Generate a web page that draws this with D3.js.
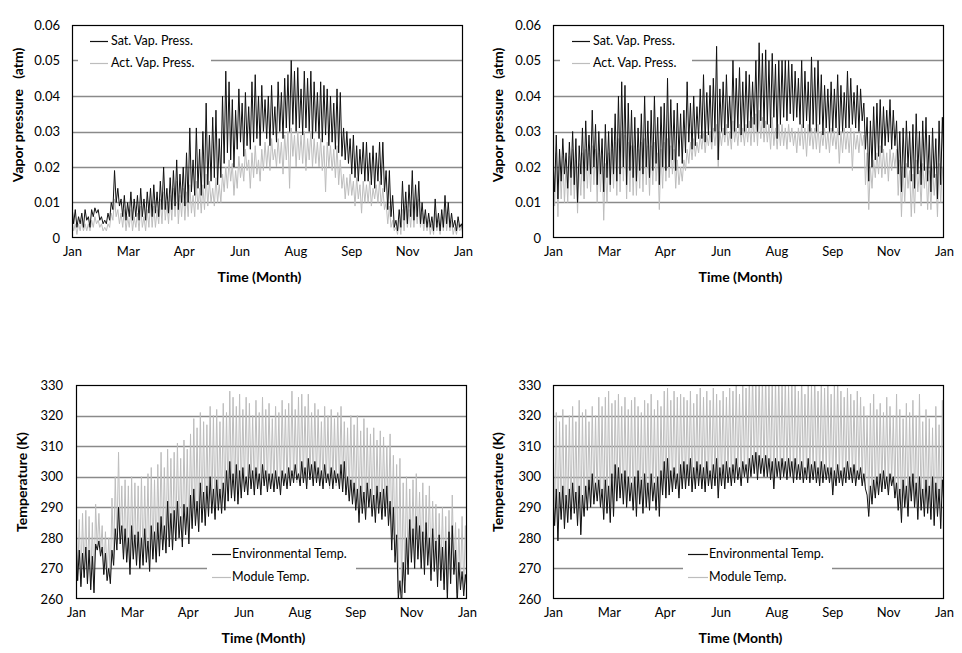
<!DOCTYPE html>
<html><head><meta charset="utf-8">
<script src="https://cdn.jsdelivr.net/npm/d3@7"></script>
<style>body{margin:0;background:#fff}svg{display:block}</style>
</head><body>
<script>
const monthLabels = ["Jan","Mar","Apr","Jun","Aug","Sep","Nov","Jan"];
const vpTicks = [0,0.01,0.02,0.03,0.04,0.05,0.06];
const tempTicks = [260,270,280,290,300,310,320,330];

const satVapA = [
0.009,0.004,0.008,0.003,0.006,0.004,0.007,0.003,0.008,0.005,
0.006,0.003,0.008,0.006,0.0085,0.007,0.008,0.005,0.006,0.004,
0.005,0.004,0.007,0.005,0.010,0.008,0.019,0.010,0.014,0.009,
0.011,0.006,0.012,0.005,0.010,0.006,0.013,0.005,0.011,0.006,
0.012,0.005,0.014,0.006,0.011,0.005,0.013,0.007,0.014,0.006,
0.015,0.007,0.013,0.006,0.016,0.008,0.020,0.008,0.014,0.007,
0.017,0.008,0.019,0.009,0.022,0.008,0.018,0.010,0.020,0.009,
0.024,0.010,0.031,0.013,0.022,0.012,0.031,0.014,0.025,0.012,
0.030,0.014,0.038,0.015,0.029,0.016,0.034,0.017,0.036,0.015,
0.028,0.017,0.040,0.021,0.047,0.024,0.044,0.022,0.039,0.020,
0.036,0.025,0.042,0.027,0.038,0.023,0.041,0.026,0.037,0.025,
0.044,0.027,0.046,0.028,0.040,0.026,0.043,0.030,0.039,0.028,
0.040,0.026,0.043,0.029,0.037,0.027,0.044,0.030,0.041,0.028,
0.045,0.031,0.046,0.030,0.050,0.032,0.047,0.030,0.048,0.031,
0.042,0.029,0.047,0.031,0.045,0.030,0.047,0.028,0.044,0.030,
0.041,0.028,0.044,0.027,0.043,0.029,0.042,0.026,0.040,0.027,
0.038,0.025,0.042,0.024,0.041,0.023,0.031,0.022,0.030,0.021,
0.028,0.018,0.029,0.017,0.026,0.016,0.025,0.018,0.027,0.016,
0.027,0.016,0.024,0.015,0.026,0.014,0.024,0.016,0.027,0.015,
0.027,0.013,0.019,0.008,0.019,0.006,0.012,0.003,0.005,0.002,
0.008,0.003,0.016,0.005,0.013,0.004,0.015,0.006,0.019,0.005,
0.015,0.006,0.016,0.004,0.010,0.004,0.008,0.003,0.007,0.003,
0.006,0.002,0.011,0.003,0.007,0.002,0.008,0.003,0.012,0.004,
0.010,0.003,0.007,0.003,0.005,0.002,0.006,0.003,0.004,0.002];
const actVapA = [
0.005,0.002,0.004,0.001,0.004,0.002,0.005,0.002,0.004,0.002,
0.004,0.002,0.005,0.003,0.006,0.004,0.005,0.003,0.004,0.002,
0.003,0.002,0.004,0.003,0.007,0.005,0.011,0.006,0.008,0.004,
0.007,0.003,0.008,0.002,0.006,0.003,0.008,0.002,0.006,0.003,
0.007,0.002,0.009,0.003,0.006,0.002,0.008,0.003,0.010,0.003,
0.009,0.003,0.008,0.004,0.011,0.004,0.013,0.005,0.010,0.004,
0.012,0.005,0.014,0.006,0.016,0.004,0.012,0.006,0.014,0.005,
0.013,0.006,0.015,0.007,0.012,0.006,0.016,0.008,0.014,0.007,
0.015,0.008,0.018,0.009,0.016,0.010,0.014,0.009,0.017,0.010,
0.015,0.010,0.018,0.013,0.020,0.014,0.022,0.016,0.021,0.012,
0.019,0.014,0.023,0.017,0.021,0.016,0.025,0.019,0.022,0.014,
0.024,0.017,0.026,0.018,0.022,0.016,0.025,0.019,0.027,0.020,
0.026,0.019,0.028,0.022,0.025,0.020,0.028,0.021,0.027,0.018,
0.029,0.022,0.030,0.014,0.031,0.023,0.029,0.020,0.030,0.022,
0.029,0.021,0.030,0.019,0.028,0.022,0.030,0.020,0.028,0.021,
0.027,0.020,0.028,0.019,0.026,0.013,0.027,0.020,0.026,0.019,
0.025,0.017,0.026,0.015,0.022,0.014,0.018,0.011,0.017,0.012,
0.018,0.012,0.016,0.009,0.017,0.011,0.015,0.007,0.016,0.010,
0.015,0.010,0.016,0.009,0.014,0.011,0.015,0.010,0.016,0.009,
0.014,0.008,0.010,0.004,0.009,0.003,0.005,0.002,0.003,0.001,
0.005,0.001,0.008,0.002,0.009,0.003,0.008,0.003,0.010,0.003,
0.010,0.004,0.011,0.003,0.007,0.002,0.006,0.002,0.005,0.001,
0.004,0.001,0.007,0.002,0.005,0.001,0.006,0.002,0.008,0.002,
0.007,0.002,0.005,0.001,0.003,0.001,0.004,0.002,0.003,0.001];

const satVapB = [
0.022,0.013,0.029,0.011,0.025,0.016,0.028,0.018,0.024,0.014,
0.027,0.017,0.030,0.015,0.028,0.010,0.026,0.018,0.031,0.016,
0.033,0.019,0.029,0.018,0.036,0.020,0.032,0.015,0.030,0.018,
0.028,0.013,0.032,0.017,0.030,0.015,0.031,0.018,0.035,0.016,
0.040,0.018,0.044,0.020,0.043,0.015,0.038,0.019,0.036,0.017,
0.034,0.016,0.031,0.019,0.035,0.018,0.040,0.020,0.033,0.017,
0.036,0.019,0.040,0.021,0.034,0.015,0.037,0.020,0.038,0.019,
0.045,0.020,0.039,0.022,0.036,0.019,0.038,0.023,0.035,0.021,
0.036,0.024,0.044,0.027,0.038,0.025,0.040,0.026,0.037,0.028,
0.042,0.028,0.046,0.027,0.041,0.029,0.043,0.027,0.045,0.030,
0.054,0.022,0.042,0.030,0.044,0.029,0.046,0.031,0.040,0.028,
0.050,0.030,0.045,0.031,0.048,0.029,0.044,0.030,0.047,0.031,
0.046,0.031,0.044,0.032,0.050,0.030,0.055,0.033,0.052,0.031,
0.053,0.032,0.050,0.031,0.052,0.034,0.049,0.028,0.050,0.032,
0.050,0.034,0.050,0.033,0.050,0.035,0.049,0.033,0.047,0.034,
0.045,0.032,0.050,0.031,0.047,0.033,0.044,0.030,0.051,0.032,
0.048,0.030,0.050,0.032,0.046,0.029,0.043,0.031,0.042,0.030,
0.044,0.030,0.042,0.031,0.046,0.029,0.043,0.030,0.041,0.031,
0.047,0.031,0.045,0.032,0.041,0.031,0.043,0.030,0.042,0.033,
0.038,0.025,0.034,0.016,0.033,0.020,0.037,0.022,0.038,0.023,
0.039,0.024,0.037,0.026,0.036,0.027,0.039,0.025,0.036,0.026,
0.033,0.018,0.030,0.013,0.031,0.017,0.033,0.020,0.030,0.016,
0.032,0.014,0.035,0.018,0.030,0.015,0.033,0.019,0.034,0.016,
0.029,0.013,0.031,0.017,0.028,0.011,0.033,0.015,0.034,0.020];
const actVapB = [
0.020,0.009,0.024,0.006,0.022,0.011,0.023,0.010,0.021,0.010,
0.023,0.012,0.025,0.011,0.022,0.007,0.021,0.012,0.024,0.011,
0.025,0.014,0.024,0.013,0.026,0.015,0.025,0.010,0.024,0.013,
0.023,0.005,0.021,0.010,0.024,0.013,0.025,0.014,0.027,0.012,
0.028,0.013,0.030,0.016,0.029,0.011,0.027,0.013,0.026,0.012,
0.026,0.012,0.025,0.014,0.027,0.013,0.028,0.015,0.026,0.012,
0.026,0.015,0.027,0.016,0.024,0.008,0.025,0.014,0.027,0.016,
0.028,0.017,0.026,0.018,0.025,0.014,0.022,0.015,0.020,0.016,
0.022,0.019,0.025,0.021,0.027,0.022,0.028,0.023,0.027,0.024,
0.029,0.025,0.030,0.024,0.029,0.026,0.030,0.025,0.031,0.026,
0.032,0.020,0.030,0.026,0.031,0.027,0.032,0.026,0.030,0.025,
0.033,0.027,0.031,0.026,0.032,0.027,0.031,0.026,0.032,0.027,
0.033,0.026,0.034,0.027,0.035,0.026,0.036,0.028,0.034,0.027,
0.033,0.027,0.032,0.025,0.034,0.026,0.031,0.025,0.032,0.026,
0.032,0.026,0.031,0.025,0.032,0.027,0.031,0.026,0.030,0.024,
0.031,0.026,0.032,0.025,0.031,0.023,0.032,0.026,0.031,0.025,
0.031,0.025,0.032,0.024,0.030,0.026,0.031,0.025,0.030,0.024,
0.031,0.026,0.030,0.025,0.031,0.021,0.030,0.024,0.031,0.025,
0.030,0.024,0.031,0.019,0.030,0.025,0.029,0.024,0.030,0.026,
0.029,0.015,0.024,0.008,0.020,0.014,0.022,0.017,0.024,0.018,
0.026,0.017,0.025,0.018,0.024,0.016,0.025,0.019,0.024,0.020,
0.025,0.012,0.022,0.006,0.020,0.010,0.021,0.014,0.019,0.006,
0.018,0.007,0.022,0.013,0.019,0.009,0.021,0.014,0.020,0.008,
0.019,0.008,0.020,0.012,0.018,0.006,0.021,0.010,0.020,0.014];

const envTempA = [
281,266,276,264,275,267,277,265,276,263,
274,262,278,276,279,274,277,268,275,266,
270,265,276,271,283,276,290,278,284,273,
283,272,280,268,284,273,281,271,282,270,
280,271,283,272,279,269,284,273,282,272,
285,274,287,276,284,275,292,277,288,276,
289,279,292,280,287,277,291,281,290,278,
294,283,296,284,292,282,298,285,295,284,
297,287,300,288,296,286,299,289,296,288,
298,289,302,292,305,293,301,292,304,291,
302,293,303,295,300,294,304,296,302,294,
303,296,301,294,304,297,302,295,301,296,
301,295,302,296,300,294,302,297,301,296,
303,297,302,298,304,299,301,297,305,298,
303,296,306,299,304,297,305,298,303,297,
302,296,304,298,301,297,303,296,302,298,
301,296,304,295,305,294,300,292,299,291,
298,289,296,285,297,288,295,286,298,290,
296,287,294,285,297,288,295,286,296,287,
297,284,292,276,290,272,281,260,266,258,
272,262,280,268,286,272,283,270,287,273,
284,270,282,268,285,271,280,266,283,269,
279,264,281,266,277,263,279,259,282,265,
284,268,276,258,272,263,269,261,268,263];
const modTempA = [
291,266,286,265,288,267,289,265,287,264,
285,263,291,276,288,275,284,268,282,267,
280,267,293,273,300,278,308,279,297,275,
299,273,297,270,300,274,298,272,297,271,
300,272,297,273,301,270,303,274,299,273,
304,276,308,277,303,276,309,279,306,277,
308,280,311,281,306,279,312,282,309,280,
314,284,319,285,316,283,321,286,318,285,
317,288,323,289,320,287,322,290,318,289,
324,290,321,292,328,294,326,293,323,292,
327,294,322,296,326,295,324,297,320,295,
325,297,321,296,326,298,322,296,324,297,
319,296,323,297,321,295,325,298,322,297,
324,298,328,299,322,298,326,297,327,299,
323,297,327,299,321,298,324,299,322,298,
318,297,323,298,320,296,322,298,319,297,
321,297,323,296,318,295,316,293,320,292,
317,290,320,289,315,288,319,287,316,290,
314,288,316,287,312,288,315,287,313,288,
310,286,314,280,307,274,304,262,306,262,
298,266,300,270,296,273,299,272,301,274,
295,272,298,270,294,272,297,268,292,270,
291,266,288,267,290,265,287,262,289,266,
294,269,285,262,283,265,287,263,284,265];

const envTempB = [
293,284,296,279,295,286,297,283,294,285,
296,286,298,288,295,284,297,281,294,287,
297,289,299,290,301,291,298,292,299,290,
296,286,299,288,297,285,301,287,304,292,
303,293,301,291,302,290,300,292,298,289,
300,287,302,291,299,288,301,290,298,289,
301,292,298,289,300,287,302,294,305,293,
306,294,302,295,303,296,301,293,304,296,
305,296,304,297,306,295,303,296,305,297,
304,296,303,295,305,297,302,296,304,297,
306,293,303,297,304,296,305,298,303,297,
304,298,306,299,303,297,305,300,304,298,
306,300,307,301,308,299,307,301,306,300,
307,300,306,299,305,296,306,300,305,299,
306,300,305,299,306,300,305,298,306,299,
304,299,305,298,303,299,306,298,304,299,
305,298,303,297,305,298,304,299,303,298,
303,294,302,297,304,298,302,297,303,298,
305,299,303,298,304,297,302,299,303,297,
301,296,294,287,297,291,299,293,300,294,
301,295,302,296,300,294,301,297,300,293,
298,289,296,285,299,290,297,287,300,292,
301,290,298,286,300,289,296,287,299,288,
297,286,300,284,298,287,296,283,299,290];
const modTempB = [
314,285,321,280,318,287,322,284,317,286,
320,287,323,289,318,285,325,282,321,288,
322,290,318,291,323,292,320,293,326,291,
323,287,326,289,328,286,324,288,325,293,
327,294,323,292,326,291,322,293,325,290,
326,288,323,292,321,289,325,291,324,290,
327,293,322,290,325,288,323,295,328,294,
329,295,325,296,328,297,326,294,327,297,
326,297,325,298,328,296,324,297,327,298,
329,297,326,296,328,298,325,297,329,298,
327,294,325,298,328,297,326,299,329,298,
328,299,331,300,327,298,330,301,329,299,
333,301,335,302,332,300,334,302,333,301,
334,301,331,300,333,297,332,301,334,300,
331,301,333,300,330,301,332,299,331,300,
328,300,333,299,327,300,332,299,330,300,
334,299,328,298,332,299,329,300,331,299,
327,295,330,298,333,299,328,298,326,299,
329,300,327,299,325,298,328,300,326,298,
323,297,320,288,324,292,327,294,322,295,
324,296,321,297,326,295,323,298,320,294,
327,290,322,286,319,291,324,288,321,293,
325,291,320,287,327,290,318,288,322,289,
319,287,316,285,323,288,317,284,325,291];

const FONT = "Lato, 'Open Sans', sans-serif";
const W = 962, H = 653;
const svg = d3.select("body").append("svg").attr("width", W).attr("height", H)
  .style("font-family", FONT);

const panels = [
  {id:"p1", l:72, r:463, t:25, b:238, domain:[0,0.06], ticks:vpTicks, fmt:v=>v===0?"0":v.toFixed(2),
   labelX:60, titleX:18, titleY:115, title:"Vapor pressure\u00a0\u00a0\u00a0(atm)", monthY:256, xTitleY:277,
   gray:actVapA, black:satVapA, names:["Sat. Vap. Press.","Act. Vap. Press."],
   leg:{x0:78, x1:211, y0:30, y1:72, lx0:90, lx1:108, tx:111, y:[41,63]}},
  {id:"p2", l:553, r:944, t:25, b:238, domain:[0,0.06], ticks:vpTicks, fmt:v=>v===0?"0":v.toFixed(2),
   labelX:541, titleX:498, titleY:115, title:"Vapor pressure\u00a0\u00a0\u00a0(atm)", monthY:256, xTitleY:277,
   gray:actVapB, black:satVapB, names:["Sat. Vap. Press.","Act. Vap. Press."],
   leg:{x0:560, x1:692, y0:30, y1:72, lx0:572, lx1:590, tx:593, y:[41,63]}},
  {id:"p3", l:76, r:467, t:385, b:599, domain:[260,330], ticks:tempTicks, fmt:v=>String(v),
   labelX:63, titleX:22, titleY:482, title:"Temperature (K)", monthY:617, xTitleY:638,
   gray:modTempA, black:envTempA, names:["Environmental Temp.","Module Temp."],
   leg:{x0:207, x1:356, y0:543, y1:590, lx0:212, lx1:231, tx:232, y:[554,577]}},
  {id:"p4", l:553, r:944, t:385, b:599, domain:[260,330], ticks:tempTicks, fmt:v=>String(v),
   labelX:541, titleX:498, titleY:482, title:"Temperature (K)", monthY:617, xTitleY:638,
   gray:modTempB, black:envTempB, names:["Environmental Temp.","Module Temp."],
   leg:{x0:683, x1:832, y0:543, y1:590, lx0:688, lx1:708, tx:709, y:[554,577]}}
];

const BLACK = "#111", GRAY = "#bdbdbd", GRID = "#8a8a8a";

panels.forEach(p => {
  const g = svg.append("g");
  const y = d3.scaleLinear().domain(p.domain).range([p.b, p.t]);
  const x = d3.scaleLinear().domain([0, p.black.length - 1]).range([p.l, p.r]);
  const xm = d3.scaleLinear().domain([0, monthLabels.length - 1]).range([p.l, p.r]);

  g.append("g").selectAll("line").data(p.ticks.slice(1, -1)).join("line")
    .attr("x1", p.l).attr("x2", p.r)
    .attr("y1", d => Math.round(y(d)) + 0.5).attr("y2", d => Math.round(y(d)) + 0.5)
    .attr("stroke", GRID).attr("stroke-width", 1.3);

  g.append("rect").attr("x", p.leg.x0).attr("y", p.leg.y0)
    .attr("width", p.leg.x1 - p.leg.x0).attr("height", p.leg.y1 - p.leg.y0).attr("fill", "#fff");

  g.append("clipPath").attr("id", "clip-" + p.id).append("rect")
    .attr("x", p.l).attr("y", p.t).attr("width", p.r - p.l).attr("height", p.b - p.t);

  const line = d3.line().x((d, i) => x(i)).y(d => y(d));
  const series = g.append("g").attr("clip-path", `url(#clip-${p.id})`);
  series.append("path").datum(p.gray).attr("d", line).attr("fill", "none")
    .attr("stroke", GRAY).attr("stroke-width", 1).attr("stroke-linejoin", "bevel");
  series.append("path").datum(p.black).attr("d", line).attr("fill", "none")
    .attr("stroke", BLACK).attr("stroke-width", 1).attr("stroke-linejoin", "bevel");

  g.append("rect").attr("x", p.l + 0.5).attr("y", p.t + 0.5)
    .attr("width", p.r - p.l - 1).attr("height", p.b - p.t - 1)
    .attr("fill", "none").attr("stroke", "#000").attr("stroke-width", 1.2);

  const ya = d3.axisLeft(y).tickValues(p.ticks).tickFormat(p.fmt).tickSize(0).tickPadding(0);
  const yg = g.append("g").attr("transform", `translate(${p.labelX},0)`).call(ya);
  yg.select(".domain").remove();
  yg.selectAll("text").attr("font-size", 13).attr("fill", "#000").attr("font-family", FONT);

  const xa = d3.axisBottom(xm).tickValues(d3.range(monthLabels.length))
    .tickFormat(i => monthLabels[i]).tickSize(0).tickPadding(0);
  const xg = g.append("g").attr("transform", `translate(0,${p.monthY - 9})`).call(xa);
  xg.select(".domain").remove();
  xg.selectAll("text").attr("font-size", 13).attr("fill", "#000").attr("font-family", FONT);

  g.append("text").attr("x", (p.l + p.r) / 2 - 8).attr("y", p.xTitleY).attr("dy", "0.35em")
    .attr("text-anchor", "middle").attr("font-weight", "bold").attr("font-size", 14)
    .text("Time (Month)");
  g.append("text").attr("transform", `translate(${p.titleX},${p.titleY}) rotate(-90)`)
    .attr("dy", "0.35em").attr("text-anchor", "middle").attr("font-weight", "bold")
    .attr("font-size", 14).text(p.title);

  const cols = [BLACK, GRAY];
  p.names.forEach((nm, k) => {
    g.append("line").attr("x1", p.leg.lx0).attr("x2", p.leg.lx1)
      .attr("y1", p.leg.y[k] + 0.5).attr("y2", p.leg.y[k] + 0.5)
      .attr("stroke", cols[k]).attr("stroke-width", 1.2);
    g.append("text").attr("x", p.leg.tx).attr("y", p.leg.y[k]).attr("dy", "0.35em")
      .attr("font-size", 12.5).attr("fill", "#000").text(nm);
  });
});
</script>
</body></html>
